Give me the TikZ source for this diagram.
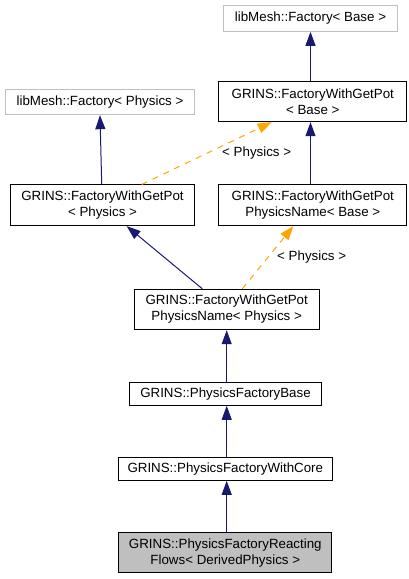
\documentclass[tikz,border=0pt]{standalone}
\usepackage{fontspec}
\setmainfont{Liberation Sans}
\usetikzlibrary{arrows.meta,calc}
\definecolor{navy}{HTML}{191970}
\definecolor{orng}{HTML}{FFA500}
\definecolor{grayb}{HTML}{BFBFBF}
\begin{document}
\begin{tikzpicture}[x=0.75pt,y=-0.75pt,
  box/.style={draw=black,line width=0.75pt,fill=white,align=center,inner sep=0pt,
    font=\fontsize{10pt}{12pt}\selectfont},
  ext/.style={box,draw=grayb},
  cur/.style={box,fill=grayb},
  inh/.style={draw=navy,line width=0.75pt,arrows={-{Triangle[length=10.5pt,width=7.5pt,fill=navy]}}},
  tpl/.style={draw=orng,line width=0.75pt,dash pattern=on 4.5pt off 4.5pt,arrows={-{Triangle[length=10.5pt,width=7.5pt,fill=orng]}}},
  lbl/.style={font=\fontsize{10pt}{12pt}\selectfont,inner sep=0pt}]
\useasboundingbox (0,0) rectangle (408,579);
\node[ext,minimum width=173.6*0.75pt,minimum height=26*0.75pt] (fBase) at (310.5,18.3) {libMesh::Factory< Base >};
\node[box,minimum width=188.3*0.75pt,minimum height=40*0.75pt] (wBase) at (312.8,101.7) {GRINS::FactoryWithGetPot\\< Base >};
\node[ext,minimum width=188.6*0.75pt,minimum height=25.4*0.75pt] (fPhys) at (100,102) {libMesh::Factory< Physics >};
\node[box,minimum width=183.6*0.75pt,minimum height=40.7*0.75pt] (wPhys) at (102.5,205.3) {GRINS::FactoryWithGetPot\\< Physics >};
\node[box,minimum width=188.3*0.75pt,minimum height=40.7*0.75pt] (pnBase) at (312.8,205.3) {GRINS::FactoryWithGetPot\\PhysicsName< Base >};
\node[box,minimum width=184.7*0.75pt,minimum height=40.4*0.75pt] (pnPhys) at (226.7,309.5) {GRINS::FactoryWithGetPot\\PhysicsName< Physics >};
\node[box,minimum width=192.4*0.75pt,minimum height=22.6*0.75pt] (pfBase) at (225.5,394) {GRINS::PhysicsFactoryBase};
\node[box,minimum width=214*0.75pt,minimum height=23*0.75pt] (pfCore) at (225.3,468.8) {GRINS::PhysicsFactoryWithCore};
\node[cur,minimum width=212.7*0.75pt,minimum height=40*0.75pt] (react) at (225.3,552.7) {GRINS::PhysicsFactoryReacting\\Flows< DerivedPhysics >};
% edges
\draw[inh] (wBase.north -| fBase.center) -- (fBase.south);
\draw[inh] (pnBase.north -| fBase.center) -- (wBase.south -| fBase.center);
\draw[inh] ([xshift=1.7*0.75pt]wPhys.north -| fPhys.center) -- (fPhys.south);
\draw[tpl] ([xshift=39.2*0.75pt]wPhys.north) -- ([xshift=-41.1*0.75pt]wBase.south);
\node[lbl] (l1) at (256.7,152.7) {< Physics >};
\draw[inh] ([xshift=-24.4*0.75pt]pnPhys.north) -- ([xshift=24.2*0.75pt]wPhys.south);
\draw[tpl] ([xshift=15.6*0.75pt]pnPhys.north) -- ([xshift=-19.5*0.75pt]pnBase.south);
\node[lbl] (l2) at (311.7,257.3) {< Physics >};
\draw[inh] (pfBase.north -| pnPhys.center) -- (pnPhys.south);
\draw[inh] (pfCore.north -| pnPhys.center) -- (pfBase.south -| pnPhys.center);
\draw[inh] (react.north -| pnPhys.center) -- (pfCore.south -| pnPhys.center);
\end{tikzpicture}
\end{document}
